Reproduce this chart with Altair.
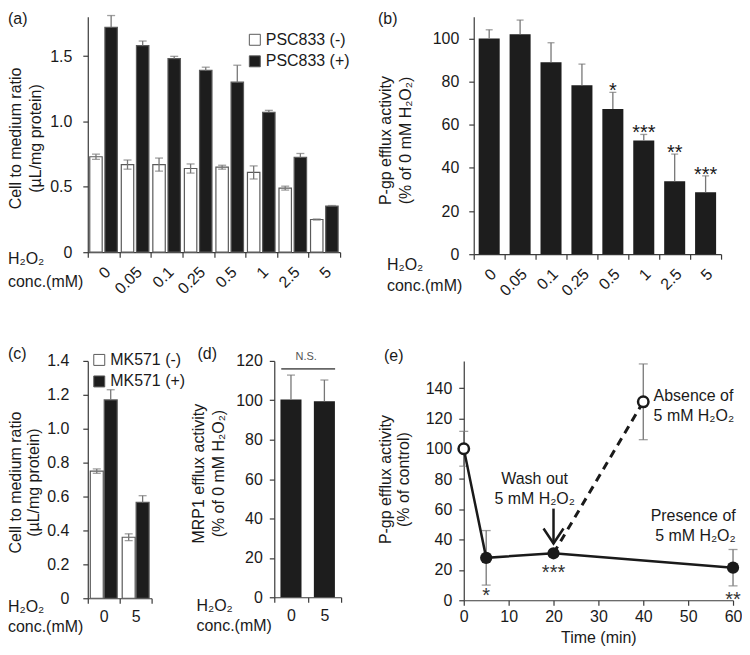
import altair as alt
import pandas as pd

FONT = "Liberation Sans"
INK = "#1a1a1a"
BAR = "#1d1d1d"
EDGE = "#5a5a5a"
ERR = "#777777"
AXC = "#3a3a3a"
H2O2 = "H\u2082O\u2082"

# ---------------- data ----------------
conc8 = ["0", "0.05", "0.1", "0.25", "0.5", "1", "2.5", "5"]
groups_a = ["PSC833 (-)", "PSC833 (+)"]
psc_minus = [0.73, 0.67, 0.67, 0.64, 0.65, 0.61, 0.49, 0.25]
psc_minus_err = [0.02, 0.035, 0.05, 0.035, 0.015, 0.05, 0.015, 0.004]
psc_plus = [1.72, 1.58, 1.48, 1.39, 1.30, 1.07, 0.725, 0.353]
psc_plus_err = [0.09, 0.035, 0.018, 0.025, 0.13, 0.015, 0.03, 0.004]

pgp_b = [100, 101.9, 89, 78.3, 67.3, 52.7, 33.8, 28.7]
pgp_b_err = [4, 6.6, 9, 9.8, 7.7, 2.8, 12.6, 7.6]
stars_b = ["", "", "", "", "*", "***", "**", "***"]

conc2 = ["0", "5"]
groups_c = ["MK571 (-)", "MK571 (+)"]
mk_minus = [0.75, 0.36]
mk_minus_err = [0.013, 0.02]
mk_plus = [1.17, 0.565]
mk_plus_err = [0.06, 0.04]

mrp1 = [100.4, 99.5]
mrp1_err = [12.4, 10.8]

ctrl_time = [0]
ctrl_val = [100]
ctrl_err = [11.5]
pres_time = [5, 20, 60]
pres_val = [28, 31, 21.5]
pres_err = [18, 2, 12]
abs_time = [40]
abs_val = [131]
abs_err = [25]
washout_time = 20
arrow_from, arrow_to = 60.5, 37.5
stars_e_time = [5, 20, 60]
stars_e_val = [6.3, 21.3, 3.7]
stars_e = ["*", "***", "**"]


# ---------------- helpers ----------------
def txt(s, x, y, align="left", angle=0, size=16, color=INK, baseline="middle"):
    return alt.Chart(pd.DataFrame({"t": [s]})).mark_text(
        align=align, baseline=baseline, angle=angle, fontSize=size, color=color, font=FONT
    ).encode(x=alt.value(x), y=alt.value(y), text="t:N")


def band_x(sort, rotate, pad):
    if rotate:
        ax = alt.Axis(title=None, labelAngle=-45, labelAlign="right", labelBaseline="middle",
                      labelPadding=pad, labelOffset=4, tickBand="extent", tickSize=5)
    else:
        ax = alt.Axis(title=None, labelAngle=0, labelPadding=pad, tickBand="extent", tickSize=5)
    return alt.X("conc:N", sort=sort, scale=alt.Scale(paddingInner=0, paddingOuter=0), axis=ax)


def yax(values, pad, expr=None):
    kw = dict(title=None, values=values, labelPadding=pad, tickSize=5)
    if expr:
        kw["labelExpr"] = expr
    return alt.Axis(**kw)


FMT1 = "datum.value == 0 ? '0' : format(datum.value, '.1f')"


def grouped(conc, groups, mv, me, pv, pe):
    rows = []
    for g, vals, errs in [(groups[0], mv, me), (groups[1], pv, pe)]:
        for c, v, e in zip(conc, vals, errs):
            two = g == groups[0]
            rows.append(dict(conc=c, grp=g, val=v, hi=v + e, lo=(v - e) if two else v, two=two))
    return pd.DataFrame(rows)


def grouped_panel(df, conc, groups, ysc, yaxis, rotate, xpad, pin, pout, legx, legy, cap):
    x = band_x(conc, rotate, xpad)
    xo = alt.XOffset("grp:N", sort=groups, scale=alt.Scale(paddingInner=pin, paddingOuter=pout))
    bars = alt.Chart(df).mark_bar(stroke=EDGE, strokeWidth=1.2).encode(
        x=x, xOffset=xo, y=alt.Y("val:Q", scale=ysc, axis=yaxis),
        fill=alt.Fill("grp:N", sort=groups, scale=alt.Scale(domain=groups, range=["white", BAR]),
                      legend=alt.Legend(orient="none", legendX=legx, legendY=legy, title=None,
                                        direction="vertical", symbolType="square", symbolSize=121,
                                        symbolStrokeColor=EDGE, symbolStrokeWidth=1,
                                        labelFont=FONT, labelFontSize=16, labelColor=INK,
                                        rowPadding=5.6, labelOffset=3, padding=0)))
    err = alt.Chart(df).mark_rule(color=ERR, strokeWidth=1.3).encode(
        x=x, xOffset=xo, y=alt.Y("lo:Q", scale=ysc, axis=yaxis), y2="hi:Q")
    cap_hi = alt.Chart(df).mark_tick(color=ERR, thickness=1.3).encode(
        x=x, xOffset=xo, y=alt.Y("hi:Q", scale=ysc, axis=yaxis), size=alt.value(cap))
    cap_lo = alt.Chart(df).mark_tick(color=ERR, thickness=1.3).transform_filter("datum.two").encode(
        x=x, xOffset=xo, y=alt.Y("lo:Q", scale=ysc, axis=yaxis), size=alt.value(cap))
    return [bars, err, cap_hi, cap_lo]


# ---------------- panel (a) ----------------
df_a = grouped(conc8, groups_a, psc_minus, psc_minus_err, psc_plus, psc_plus_err)
ysa = alt.Scale(domain=[0, 1.8], nice=False)
layers_a = grouped_panel(df_a, conc8, groups_a, ysa, yax([0, 0.5, 1, 1.5], 11, FMT1), True, 12,
                         0.18, 0.13, 159.5, 15, 8)
pa = alt.layer(
    *layers_a,
    txt("(a)", -80, 2),
    txt("Cell to medium ratio", -72, 122, align="center", angle=270),
    txt("(\u00b5L/mg protein)", -52, 122, align="center", angle=270),
    txt(H2O2, -80, 243),
    txt("conc.(mM)", -80, 266),
).properties(width=253, height=236)

# ---------------- panel (b) ----------------
df_b = pd.DataFrame({"conc": conc8, "val": pgp_b, "err": pgp_b_err, "star": stars_b})
df_b["hi"] = df_b["val"] + df_b["err"]
xb = band_x(conc8, True, 12)
ysb = alt.Scale(domain=[0, 110], nice=False)
yab = yax([0, 20, 40, 60, 80, 100], 10)
pb = alt.layer(
    alt.Chart(df_b).mark_bar(color=BAR, width=alt.RelativeBandSize(0.68)).encode(
        x=xb, y=alt.Y("val:Q", scale=ysb, axis=yab)),
    alt.Chart(df_b).mark_rule(color=ERR, strokeWidth=1.3).encode(
        x=xb, y=alt.Y("val:Q", scale=ysb, axis=yab), y2="hi:Q"),
    alt.Chart(df_b).mark_tick(color=ERR, thickness=1.3).encode(
        x=xb, y=alt.Y("hi:Q", scale=ysb, axis=yab), size=alt.value(7)),
    alt.Chart(df_b).mark_text(baseline="alphabetic", dy=5, fontSize=20, color=INK, font=FONT).encode(
        x=xb, y=alt.Y("hi:Q", scale=ysb, axis=yab), text="star:N"),
    txt("(b)", -96, 2),
    txt("P-gp efflux activity", -88, 124, align="center", angle=270),
    txt("(% of 0 mM " + H2O2 + ")", -68, 124, align="center", angle=270),
    txt(H2O2, -87, 249),
    txt("conc.(mM)", -87, 270),
).properties(width=248, height=238)

# ---------------- panel (c) ----------------
df_c = grouped(conc2, groups_c, mk_minus, mk_minus_err, mk_plus, mk_plus_err)
ysc = alt.Scale(domain=[0, 1.4], nice=False)
layers_c = grouped_panel(df_c, conc2, groups_c, ysc,
                         yax([0, 0.2, 0.4, 0.6, 0.8, 1.0, 1.2, 1.4], 14, FMT1), False, 5,
                         0.07, 0.18, 3.5, -9, 8)
pc = alt.layer(
    *layers_c,
    txt("(c)", -80, -7),
    txt("Cell to medium ratio", -72, 122, align="center", angle=270),
    txt("(\u00b5L/mg protein)", -54, 122, align="center", angle=270),
    txt(H2O2, -80, 247),
    txt("conc.(mM)", -80, 267),
).properties(width=64, height=238)

# ---------------- panel (d) ----------------
df_d = pd.DataFrame({"conc": conc2, "val": mrp1, "err": mrp1_err})
df_d["hi"] = df_d["val"] + df_d["err"]
xd = band_x(conc2, False, 5)
ysd = alt.Scale(domain=[0, 120], nice=False)
yad = yax([0, 20, 40, 60, 80, 100, 120], 7)
pdd = alt.layer(
    alt.Chart(df_d).mark_bar(color=BAR, width=alt.RelativeBandSize(0.63)).encode(
        x=xd, y=alt.Y("val:Q", scale=ysd, axis=yad)),
    alt.Chart(df_d).mark_rule(color=ERR, strokeWidth=1.3).encode(
        x=xd, y=alt.Y("val:Q", scale=ysd, axis=yad), y2="hi:Q"),
    alt.Chart(df_d).mark_tick(color=ERR, thickness=1.3).encode(
        x=xd, y=alt.Y("hi:Q", scale=ysd, axis=yad), size=alt.value(8)),
    alt.Chart(pd.DataFrame({"s": [0]})).mark_rule(color="#666666", strokeWidth=1.6).encode(
        x=alt.value(7), x2=alt.value(61), y=alt.value(8)),
    txt("N.S.", 32, -4, align="center", size=11, color="#555555"),
    txt("(d)", -77, -7),
    txt("MRP1 efflux activity", -75, 113, align="center", angle=270),
    txt("(% of 0 mM " + H2O2 + ")", -55, 113, align="center", angle=270),
    txt(H2O2, -78, 246),
    txt("conc.(mM)", -78, 266),
).properties(width=67, height=237)

# ---------------- panel (e) ----------------
ctrl = pd.DataFrame({"t": ctrl_time, "v": ctrl_val, "e": ctrl_err})
pres = pd.DataFrame({"t": pres_time, "v": pres_val, "e": pres_err})
absn = pd.DataFrame({"t": abs_time, "v": abs_val, "e": abs_err})
line_p = pd.concat([ctrl, pres], ignore_index=True)
line_a = pd.concat([pres[pres["t"] == washout_time], absn], ignore_index=True)
allpts = pd.concat([ctrl, pres, absn], ignore_index=True)
allpts["lo"] = allpts["v"] - allpts["e"]
allpts["hi"] = allpts["v"] + allpts["e"]
opened = pd.concat([ctrl, absn], ignore_index=True)

xse = alt.Scale(domain=[0, 60], nice=False)
xae = alt.Axis(values=[0, 10, 20, 30, 40, 50, 60], title="Time (min)", labelPadding=3,
               tickSize=5, titlePadding=5)
yse = alt.Scale(domain=[0, 158], nice=False)
yae = yax([0, 20, 40, 60, 80, 100, 120, 140], 7)


def XE(f="t"):
    return alt.X(f + ":Q", scale=xse, axis=xae)


def YE(f="v"):
    return alt.Y(f + ":Q", scale=yse, axis=yae)


arrow = pd.DataFrame({"t": [washout_time], "a": [arrow_from], "b": [arrow_to]})
ann_e = pd.DataFrame({
    "t": [42.3, 42.3, 15.8, 15.8, 60.6, 60.6],
    "v": [135, 121.3, 80.1, 67.1, 55.3, 42.3],
    "s": ["Absence of", "5 mM " + H2O2, "Wash out", "5 mM " + H2O2, "Presence of", "5 mM " + H2O2],
    "al": ["left", "left", "center", "center", "right", "right"],
})
stars_df = pd.DataFrame({"t": stars_e_time, "v": stars_e_val, "s": stars_e})

ann_layers = []
for al in ["left", "center", "right"]:
    ann_layers.append(
        alt.Chart(ann_e[ann_e["al"] == al]).mark_text(
            align=al, baseline="middle", fontSize=16, color=INK, font=FONT
        ).encode(x=XE(), y=YE(), text="s:N"))

pe = alt.layer(
    alt.Chart(allpts).mark_rule(color=ERR, strokeWidth=1.3).encode(x=XE(), y=YE("lo"), y2="hi:Q"),
    alt.Chart(allpts).mark_tick(color=ERR, thickness=1.3, orient="horizontal").encode(
        x=XE(), y=YE("hi"), size=alt.value(9)),
    alt.Chart(allpts).mark_tick(color=ERR, thickness=1.3, orient="horizontal").encode(
        x=XE(), y=YE("lo"), size=alt.value(9)),
    alt.Chart(line_a).mark_line(color=INK, strokeWidth=3, strokeDash=[8, 6]).encode(x=XE(), y=YE()),
    alt.Chart(line_p).mark_line(color=INK, strokeWidth=2.5).encode(x=XE(), y=YE()),
    alt.Chart(pres).mark_point(shape="circle", filled=True, size=150, color=INK, opacity=1).encode(
        x=XE(), y=YE()),
    alt.Chart(opened).mark_point(shape="circle", filled=True, fill="white", stroke=INK, strokeWidth=2.5,
                                 size=110, opacity=1).encode(x=XE(), y=YE()),
    alt.Chart(arrow).mark_rule(color=INK, strokeWidth=2.5).encode(x=XE(), y=YE("a"), y2="b:Q"),
    alt.Chart(arrow).mark_point(shape="M-1,-1.5L0,0L1,-1.5", size=400, filled=False, stroke=INK,
                                strokeWidth=2.5, opacity=1).encode(x=XE(), y=YE("b")),
    *ann_layers,
    alt.Chart(stars_df).mark_text(baseline="alphabetic", dy=11, fontSize=20, color="#333333",
                                  font=FONT).encode(x=XE(), y=YE(), text="s:N"),
    txt("(e)", -80, -5),
    txt("P-gp efflux activity", -78, 119, align="center", angle=270),
    txt("(% of control)", -60, 119, align="center", angle=270),
).properties(width=270, height=240)


# ---------------- layout ----------------
row1 = alt.hconcat(pa, pb, spacing=134, bounds="flush").resolve_scale(
    fill="independent", xOffset="independent")
row2 = alt.hconcat(pc, pdd, pe, spacing=123, bounds="flush").resolve_scale(
    fill="independent", xOffset="independent")

chart = alt.vconcat(row1, row2, spacing=47).resolve_scale(
    fill="independent", xOffset="independent"
).resolve_legend(
    fill="independent"
).configure_view(
    stroke=None
).configure_axis(
    labelFont=FONT, labelFontSize=16, labelColor=INK, domainColor=AXC, tickColor=AXC,
    domainWidth=1.2, tickWidth=1.2, grid=False, titleFont=FONT, titleFontSize=16,
    titleFontWeight="normal", titleColor=INK, labelFlush=False
).configure_text(font=FONT).properties(padding=0)

chart.save("out.html", embed_options={"renderer": "svg", "actions": False})
